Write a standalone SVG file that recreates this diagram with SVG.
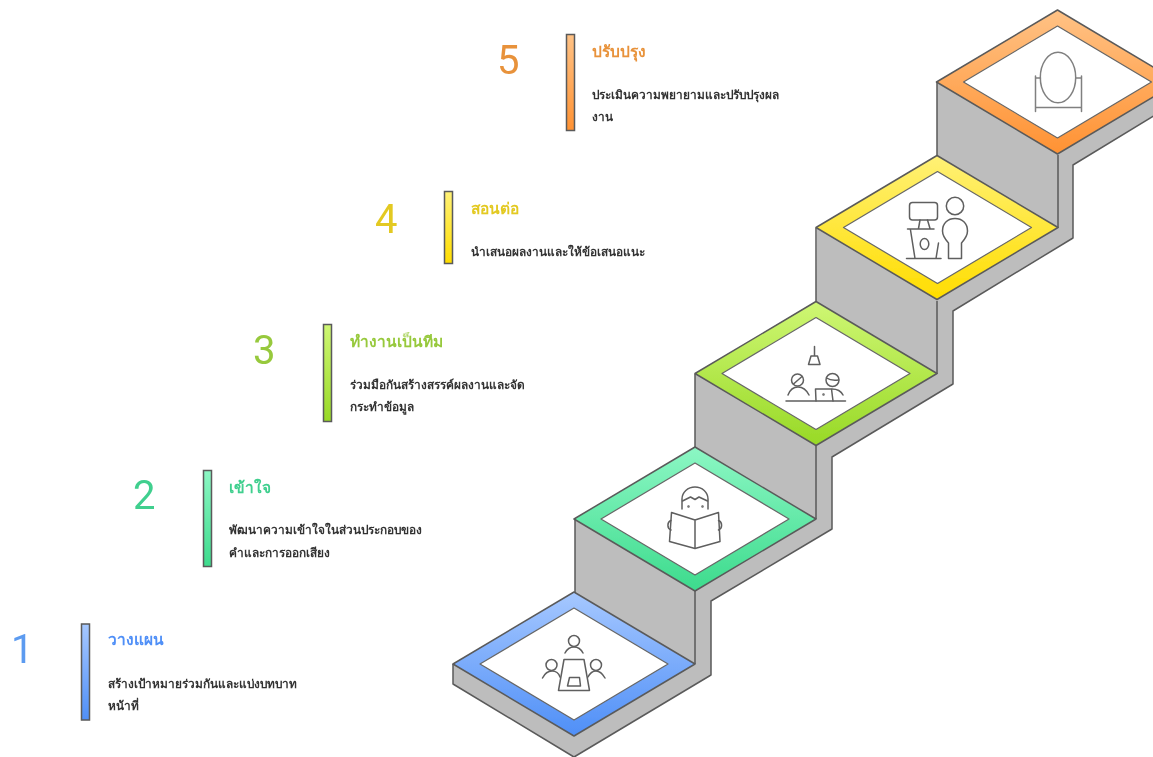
<svg xmlns="http://www.w3.org/2000/svg" xmlns:xlink="http://www.w3.org/1999/xlink" width="1153" height="757" viewBox="0 0 1153 757">
<style>
text{font-family:Roboto,"Noto Sans",sans-serif}
.num{font-size:40px;font-weight:400}
.title{font-size:15.5px;font-weight:700}
.body{font-size:11.8px;fill:#333;font-weight:700}
.edge{fill:none;stroke:#5a5a5a;stroke-width:1.5;stroke-linejoin:round}
.bar{stroke:#5a5a5a;stroke-width:1.5}
.plate{stroke:#5a5a5a;stroke-width:1.5;stroke-linejoin:round}
.hole{fill:#fff;stroke:#666;stroke-width:1.2;stroke-linejoin:round}
.ico{fill:none;stroke:#5f5f5f;stroke-width:1.5;stroke-linecap:round;stroke-linejoin:round}
</style>
<defs>
<filter id="soft" filterUnits="userSpaceOnUse" x="0" y="0" width="1153" height="757"><feGaussianBlur stdDeviation="0.5"/></filter>
<linearGradient id="g1" x1="0" y1="0" x2="0" y2="1"><stop offset="0" stop-color="#a6c8ff"/><stop offset="1" stop-color="#4f8ff7"/></linearGradient>
<linearGradient id="g2" x1="0" y1="0" x2="0" y2="1"><stop offset="0" stop-color="#8cf7c4"/><stop offset="1" stop-color="#3ddb8d"/></linearGradient>
<linearGradient id="g3" x1="0" y1="0" x2="0" y2="1"><stop offset="0" stop-color="#cff774"/><stop offset="1" stop-color="#98d926"/></linearGradient>
<linearGradient id="g4" x1="0" y1="0" x2="0" y2="1"><stop offset="0" stop-color="#fff176"/><stop offset="1" stop-color="#ffdd00"/></linearGradient>
<linearGradient id="g5" x1="0" y1="0" x2="0" y2="1"><stop offset="0" stop-color="#ffc285"/><stop offset="1" stop-color="#ff9233"/></linearGradient>
<polygon id="plate" class="plate" points="574,592 453,664 574,736 695,664"/>
<polygon id="hole" class="hole" points="574,608 480,664 574,720 668,664"/>
</defs>
<g id="diagram" filter="url(#soft)">
<g id="stair-body">
<polygon fill="#bdbdbd" points="453,664 453,684 574,757 711,675 711,601 832,529 832,457 953,384 953,311 1073,238 1073,165 1178,101 1178,82 1057,10 937,82 937,155 817,227 816,301 695,374 695,447 575,519 575,592"/>
<polyline class="edge" points="453,664 453,684 574,757 711,675 711,601 832,529 832,457 953,384 953,311 1073,238 1073,165 1178,101"/>
<path class="edge" d="M575,519V592M695,374V447M816,228V301M937,82V155M695,591V664M816,446V519M937,301V374M1058,155V228"/>
</g>
<g id="step-1">
<use href="#plate" fill="url(#g1)"/><use href="#hole"/>
<g class="ico"><circle cx="574" cy="641" r="5.500"/><path d="M565,653Q568,647 574,647T583,653"/><path d="M564,659.500H584L589.500,690.500H558.500Z"/><path d="M569.500,677.500H579.500L580.500,686H567.500Z"/><circle cx="551.500" cy="665" r="5.500"/><path d="M542.500,678Q546,671 552,671T560,677"/><circle cx="596" cy="665" r="5.500"/><path d="M588,677Q591,671 596,671T605,678"/></g>
<text class="num" x="11" y="663" fill="#5c9bf0">1</text>
<rect class="bar" x="81.500" y="624" width="8" height="96" fill="url(#g1)"/>
<text class="title" x="108" y="645" fill="#4f8ff7">วางแผน</text>
<text class="body" x="108" y="688">สร้างเป้าหมายร่วมกันและแบ่งบทบาท</text>
<text class="body" x="108" y="710">หน้าที่</text>
</g>
<g id="step-2">
<use href="#plate" fill="url(#g2)" transform="translate(121,-145)"/><use href="#hole" transform="translate(121,-145)"/>
<g class="ico"><path d="M682,509V499A13,12 0 0 1 708,499V509"/><path d="M682.500,501L690.500,497L695,499.500L699,497L707.500,501"/><path d="M695,520L671.500,512.500L669.500,541.500L695,548.500L720,541.500L718.500,512.500ZM695,520V548.500"/><path d="M671,520.500A4.500,5 0 0 0 671,530M718.500,520.500A4.500,5 0 0 1 718.500,530"/><circle cx="688.500" cy="506.500" r=".5"/><circle cx="702.500" cy="506.500" r=".5"/></g>
<text class="num" x="133" y="509" fill="#3fcf8e">2</text>
<rect class="bar" x="203.500" y="470.500" width="8" height="96" fill="url(#g2)"/>
<text class="title" x="229" y="493" fill="#3fcf8e">เข้าใจ</text>
<text class="body" x="229" y="534">พัฒนาความเข้าใจในส่วนประกอบของ</text>
<text class="body" x="229" y="557">คำและการออกเสียง</text>
</g>
<g id="step-3">
<use href="#plate" fill="url(#g3)" transform="translate(242,-290.500)"/><use href="#hole" transform="translate(242,-290.500)"/>
<g class="ico"><path d="M814.500,346.500V356M811,356H817.500L820,364.500H808.500Z"/><circle cx="797.500" cy="380" r="6"/><path d="M793.500,384L802,376.500"/><circle cx="832.500" cy="380" r="6.500"/><path d="M826.500,378Q831,381 838.500,380"/><path d="M788,395Q791,387 798,387T809,395"/><path d="M832,389Q840,389 843,395"/><path d="M816,401L815.500,389H831.500L833,401"/><circle cx="823.500" cy="394.500" r=".5"/><path d="M786,401H845.500"/></g>
<text class="num" x="253" y="364" fill="#97c93c">3</text>
<rect class="bar" x="323.500" y="324.500" width="8" height="97" fill="url(#g3)"/>
<text class="title" x="350" y="347" fill="#97c93c">ทำงานเป็นทีม</text>
<text class="body" x="350" y="389">ร่วมมือกันสร้างสรรค์ผลงานและจัด</text>
<text class="body" x="350" y="411">กระทำข้อมูล</text>
</g>
<g id="step-4">
<use href="#plate" fill="url(#g4)" transform="translate(363,-436.500)"/><use href="#hole" transform="translate(363.500,-436.500)"/>
<g class="ico"><rect x="909.500" y="202.500" width="28" height="17.500" rx="3"/><path d="M920,220L918.500,228.500M927.500,220L930,228.500M907.500,229H934M910.500,230L915,258.500M938.500,243L936,258.500M906.500,258.500H941"/><ellipse cx="924.500" cy="244" rx="4.300" ry="5.500"/><circle cx="955" cy="206" r="8.700"/><path d="M948.500,258.500V243C944,238 942.500,235 942.500,231C942.500,223 948,218.500 955,218.500S967.500,223 967.500,231C967.500,235 966,238 961.500,243V258.500Z"/></g>
<text class="num" x="375" y="233" fill="#e3c920">4</text>
<rect class="bar" x="444.500" y="191.500" width="8" height="72" fill="url(#g4)"/>
<text class="title" x="471" y="214" fill="#e3c920">สอนต่อ</text>
<text class="body" x="471" y="256">นำเสนอผลงานและให้ข้อเสนอแนะ</text>
</g>
<g id="step-5">
<use href="#plate" fill="url(#g5)" transform="translate(483.500,-582)"/><use href="#hole" transform="translate(483.500,-582)"/>
<g class="ico" style="stroke:#808080"><ellipse cx="1058" cy="77.500" rx="17.700" ry="25.300"/><path d="M1035.500,76V111.500M1081.500,76V111.500M1035.500,107.500H1081.500M1035.500,78H1040.500M1076,78H1081.500"/></g>
<text class="num" x="497" y="74" fill="#e8923a">5</text>
<rect class="bar" x="566.500" y="34.500" width="8" height="96" fill="url(#g5)"/>
<text class="title" x="592" y="57" fill="#e8923a">ปรับปรุง</text>
<text class="body" x="592" y="99">ประเมินความพยายามและปรับปรุงผล</text>
<text class="body" x="592" y="121">งาน</text>
</g>
</g>
</svg>
